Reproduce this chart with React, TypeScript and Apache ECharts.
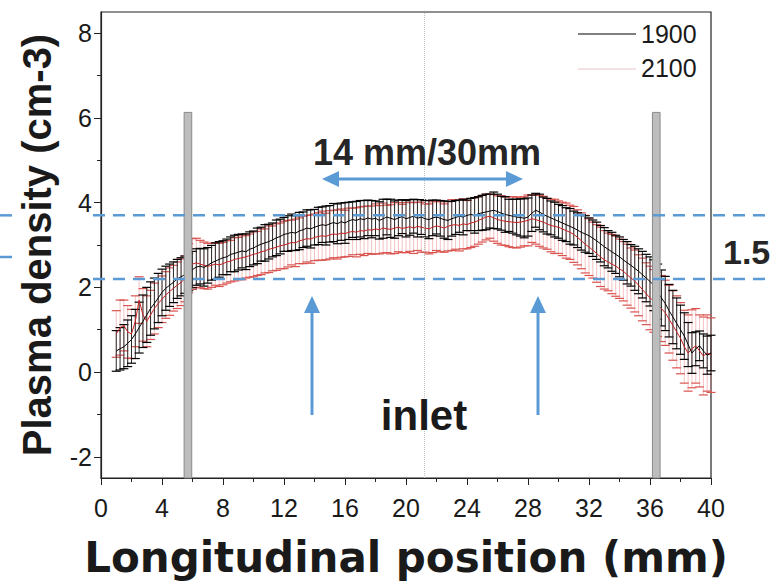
import React, { useEffect, useRef } from 'react';
import * as echarts from 'echarts';

// Longitudinal sampling (mm)
const X_START = 1;
const X_STEP = 0.25;

// Series "1900": mean plasma density and its error (±)
const MEAN_1900 = [
  0.50, 0.55, 0.60, 0.68, 0.77,
  0.90, 1.05, 1.20, 1.35,
  1.50, 1.62, 1.75, 1.88,
  1.98, 2.05, 2.12, 2.20,
  2.25, 2.30, 2.36, 2.42,
  2.48, 2.50, 2.47, 2.52,
  2.58, 2.62, 2.66, 2.70,
  2.72, 2.78, 2.80, 2.83,
  2.86, 2.84, 2.90, 2.93,
  2.98, 3.02, 3.05, 3.08,
  3.12, 3.17, 3.20, 3.25,
  3.27, 3.30, 3.28, 3.33,
  3.36, 3.40, 3.38, 3.42,
  3.45, 3.48, 3.46, 3.50,
  3.53, 3.50, 3.55, 3.52,
  3.57, 3.60, 3.58, 3.62,
  3.60, 3.64, 3.61, 3.63,
  3.58, 3.62, 3.66, 3.63,
  3.60, 3.64, 3.67, 3.62,
  3.65, 3.68, 3.63, 3.66,
  3.62, 3.60, 3.64, 3.66,
  3.63, 3.60, 3.58, 3.62,
  3.65, 3.68, 3.66, 3.70,
  3.72, 3.70, 3.74, 3.76,
  3.78, 3.80, 3.82, 3.79,
  3.75, 3.72, 3.70, 3.68,
  3.66, 3.65, 3.63, 3.66,
  3.75, 3.82, 3.78, 3.72,
  3.68, 3.64, 3.60, 3.56,
  3.52, 3.48, 3.44, 3.40,
  3.35, 3.30, 3.26, 3.22,
  3.16, 3.10, 3.03, 2.96,
  2.90, 2.84, 2.78, 2.72,
  2.65, 2.58, 2.52, 2.45,
  2.38, 2.30, 2.22, 2.14,
  2.05, 1.90, 1.75, 1.62,
  1.45, 1.30, 1.15, 1.00,
  0.85, 0.65, 0.45, 0.55,
  0.62, 0.50, 0.40, 0.45,
];
const ERR_1900 = [
  0.48, 0.50, 0.52, 0.55, 0.56,
  0.58, 0.60, 0.62, 0.65,
  0.63, 0.60, 0.58, 0.55,
  0.52, 0.50, 0.48, 0.46,
  0.45, 0.44, 0.44, 0.43,
  0.43, 0.42, 0.44, 0.42,
  0.41, 0.43, 0.42, 0.40,
  0.42, 0.41, 0.43, 0.42,
  0.40, 0.42, 0.41, 0.40,
  0.42, 0.40, 0.43, 0.41,
  0.40, 0.42, 0.41, 0.40,
  0.42, 0.43, 0.41, 0.44,
  0.42, 0.43, 0.45, 0.42,
  0.44, 0.42, 0.46, 0.43,
  0.45, 0.47, 0.44, 0.48,
  0.44, 0.42, 0.45, 0.43,
  0.45, 0.42, 0.44, 0.41,
  0.44, 0.46, 0.42, 0.45,
  0.44, 0.42, 0.40, 0.43,
  0.42, 0.40, 0.44, 0.41,
  0.43, 0.45, 0.42, 0.40,
  0.42, 0.44, 0.45, 0.41,
  0.40, 0.38, 0.42, 0.36,
  0.38, 0.42, 0.40, 0.41,
  0.42, 0.40, 0.43, 0.41,
  0.40, 0.42, 0.38, 0.40,
  0.42, 0.44, 0.46, 0.45,
  0.43, 0.40, 0.42, 0.41,
  0.42, 0.40, 0.41, 0.40,
  0.41, 0.40, 0.42, 0.40,
  0.41, 0.42, 0.43, 0.42,
  0.43, 0.44, 0.43, 0.45,
  0.44, 0.46, 0.45, 0.47,
  0.48, 0.50, 0.49, 0.52,
  0.53, 0.55, 0.56, 0.58,
  0.60, 0.65, 0.66, 0.64,
  0.62, 0.63, 0.60, 0.58,
  0.55, 0.52, 0.48, 0.40,
  0.35, 0.40, 0.45, 0.42,
];

// Series "2100": mean plasma density and its error (±)
const MEAN_2100 = [
  0.90, 1.05, 1.10, 0.95, 0.90,
  1.20, 1.70, 1.35, 1.20,
  1.35, 1.50, 1.62, 1.72,
  1.82, 1.90, 1.98, 2.05,
  2.12, 2.20, 2.45, 2.55,
  2.58, 2.55, 2.52, 2.50,
  2.52, 2.55, 2.53, 2.56,
  2.60, 2.62, 2.66, 2.68,
  2.70, 2.72, 2.75, 2.78,
  2.80, 2.84, 2.86, 2.90,
  2.92, 2.95, 2.98, 3.00,
  3.03, 3.06, 3.05, 3.10,
  3.12, 3.15, 3.14, 3.18,
  3.20, 3.22, 3.20, 3.24,
  3.26, 3.25, 3.28, 3.27,
  3.30, 3.32, 3.30, 3.34,
  3.33, 3.36, 3.35, 3.38,
  3.36, 3.40, 3.38, 3.37,
  3.40, 3.42, 3.39, 3.41,
  3.43, 3.40, 3.44, 3.42,
  3.40, 3.38, 3.42, 3.45,
  3.43, 3.40, 3.44, 3.47,
  3.48, 3.46, 3.50, 3.48,
  3.52, 3.54, 3.58, 3.62,
  3.66, 3.68, 3.64, 3.60,
  3.58, 3.56, 3.55, 3.54,
  3.53, 3.54, 3.56, 3.58,
  3.62, 3.60, 3.57, 3.54,
  3.50, 3.46, 3.44, 3.42,
  3.38, 3.34, 3.30, 3.25,
  3.18, 3.10, 3.02, 2.95,
  2.88, 2.80, 2.72, 2.65,
  2.60, 2.55, 2.50, 2.44,
  2.38, 2.30, 2.22, 2.15,
  2.05, 1.95, 1.85, 1.75,
  1.68, 1.60, 1.50, 1.40,
  1.25, 1.10, 0.95, 0.80,
  0.60, 0.45, 0.55, 0.62,
  0.50, 0.38, 0.45, 0.40,
];
const ERR_2100 = [
  0.55, 0.65, 0.60, 0.62, 0.58,
  0.60, 0.55, 0.62, 0.60,
  0.58, 0.60, 0.57, 0.55,
  0.55, 0.56, 0.54, 0.55,
  0.55, 0.54, 0.58, 0.60,
  0.58, 0.56, 0.55, 0.54,
  0.52, 0.50, 0.51, 0.50,
  0.50, 0.49, 0.51, 0.50,
  0.52, 0.50, 0.51, 0.53,
  0.52, 0.54, 0.52, 0.55,
  0.53, 0.55, 0.54, 0.56,
  0.55, 0.53, 0.56, 0.54,
  0.56, 0.55, 0.57, 0.55,
  0.56, 0.58, 0.55, 0.57,
  0.56, 0.58, 0.57, 0.55,
  0.57, 0.55, 0.58, 0.56,
  0.58, 0.56, 0.57, 0.59,
  0.57, 0.59, 0.56, 0.58,
  0.60, 0.58, 0.57, 0.59,
  0.58, 0.60, 0.57, 0.59,
  0.57, 0.59, 0.60, 0.58,
  0.59, 0.57, 0.58, 0.60,
  0.58, 0.60, 0.59, 0.57,
  0.58, 0.57, 0.56, 0.55,
  0.54, 0.52, 0.55, 0.56,
  0.58, 0.57, 0.59, 0.60,
  0.60, 0.59, 0.58, 0.60,
  0.56, 0.58, 0.60, 0.61,
  0.60, 0.62, 0.64, 0.62,
  0.63, 0.65, 0.64, 0.66,
  0.65, 0.66, 0.68, 0.67,
  0.66, 0.68, 0.70, 0.69,
  0.68, 0.70, 0.71, 0.70,
  0.70, 0.72, 0.71, 0.73,
  0.72, 0.74, 0.73, 0.75,
  0.74, 0.76, 0.78, 0.77,
  0.80, 0.82, 0.85, 0.84,
  0.86, 0.90, 0.92, 0.88,
  0.85, 0.92, 0.90, 0.88,
];

const SERIES_NAMES = ['1900', '2100'];
// Gray electrode bars: [x start, x end, top value]
const ELECTRODES = [
  [5.45, 5.95, 6.13],
  [36.16, 36.66, 6.13],
];
const CENTER_X = 21.2;
const BAND_LEVELS = [3.7, 2.2];

const X_TICKS_MAJOR = 4;
const Y_LABELS = [-2, 0, 2, 4, 6, 8];
const Y_MINOR = [-1, 1, 3, 5, 7];

const BLUE = '#5b9bd5';
const FONT = '"Liberation Sans", Arial, sans-serif';
const NARROW = '"Liberation Sans Narrow", "Arial Narrow", "Liberation Sans", sans-serif';

function makeErrorSeries(name: string, mean: number[], err: number[], barColor: string, capColor: string, z: number) {
  const data = mean.map((m, i) => [X_START + i * X_STEP, m - err[i], m + err[i]]);
  return {
    name: name + ' err',
    type: 'custom',
    z,
    silent: true,
    encode: { x: 0, y: [1, 2] },
    data,
    renderItem: (params: any, api: any) => {
      const x = api.value(0);
      const lo = api.coord([x, api.value(1)]);
      const hi = api.coord([x, api.value(2)]);
      const hw = 4.5;
      return {
        type: 'group',
        children: [
          { type: 'line', shape: { x1: lo[0], y1: lo[1], x2: hi[0], y2: hi[1] }, style: { stroke: barColor, lineWidth: 1 } },
          { type: 'line', shape: { x1: hi[0] - hw, y1: hi[1], x2: hi[0] + hw, y2: hi[1] }, style: { stroke: capColor, lineWidth: 1.2 } },
          { type: 'line', shape: { x1: lo[0] - hw, y1: lo[1], x2: lo[0] + hw, y2: lo[1] }, style: { stroke: capColor, lineWidth: 1.2 } },
        ],
      };
    },
  };
}

export default function App() {
  const ref = useRef<HTMLDivElement>(null);
  useEffect(() => {
    const chart = echarts.init(ref.current!, null, { renderer: 'svg' });
    const xs = MEAN_1900.map((_, i) => X_START + i * X_STEP);
    const option: any = {
      animation: false,
      backgroundColor: '#fff',
      grid: { left: 101, right: 59, top: 12, bottom: 100, show: true, borderColor: '#222', borderWidth: 1.2, backgroundColor: 'transparent' },
      xAxis: {
        type: 'value', min: 0, max: 40, interval: X_TICKS_MAJOR,
        name: 'Longitudinal position (mm)', nameLocation: 'middle', nameGap: 58,
        nameTextStyle: { fontFamily: '"DejaVu Sans", sans-serif', fontSize: 42, fontWeight: 'bold', color: '#1a1a1a' },
        axisLine: { show: true, onZero: false, lineStyle: { color: '#222', width: 1.2 } },
        axisTick: { show: true, inside: false, length: 7, lineStyle: { color: '#222' } },
        minorTick: { show: true, splitNumber: 2, length: 4, lineStyle: { color: '#222' } },
        axisLabel: { fontFamily: NARROW, fontSize: 25, color: '#1a1a1a', margin: 17 },
        splitLine: { show: false },
      },
      yAxis: [
        {
          type: 'value', min: -2.5, max: 8.5,
          name: 'Plasma density (cm-3)', nameLocation: 'middle', nameGap: 44, nameRotate: 90,
          nameTextStyle: { fontFamily: FONT, fontSize: 40, fontWeight: 'bold', color: '#1a1a1a' },
          axisLine: { show: true, onZero: false, lineStyle: { color: '#222', width: 1.2 } },
          axisTick: { show: true, inside: false, length: 7, customValues: Y_LABELS, lineStyle: { color: '#222' } },
          axisLabel: { fontFamily: NARROW, fontSize: 25, color: '#1a1a1a', margin: 9, customValues: Y_LABELS },
          splitLine: { show: false },
        },
        {
          type: 'value', min: -2.5, max: 8.5, position: 'left',
          axisLine: { show: false },
          axisTick: { show: true, inside: false, length: 4, customValues: Y_MINOR, lineStyle: { color: '#222' } },
          axisLabel: { show: false },
          splitLine: { show: false },
        },
      ],
      series: [
        makeErrorSeries(SERIES_NAMES[1], MEAN_2100, ERR_2100, 'rgba(230,120,120,0.45)', '#d9534f', 2),
        makeErrorSeries(SERIES_NAMES[0], MEAN_1900, ERR_1900, '#2a2a2a', '#000', 3),
        {
          name: SERIES_NAMES[1], type: 'line', z: 4, showSymbol: false, silent: true,
          data: xs.map((x, i) => [x, MEAN_2100[i]]),
          lineStyle: { color: '#cc2020', width: 1 },
        },
        {
          name: SERIES_NAMES[0], type: 'line', z: 5, showSymbol: false, silent: true,
          data: xs.map((x, i) => [x, MEAN_1900[i]]),
          lineStyle: { color: '#000', width: 1 },
          markLine: {
            silent: true, symbol: ['none', 'none'], label: { show: false },
            lineStyle: { type: 'dotted', color: '#c0c0c0', width: 1 },
            data: [{ xAxis: CENTER_X }],
          },
        },
        {
          name: 'electrodes', type: 'custom', z: 6, silent: true,
          encode: { x: [0, 1], y: 2 },
          data: ELECTRODES,
          renderItem: (params: any, api: any) => {
            const p0 = api.coord([api.value(0), api.value(2)]);
            const p1 = api.coord([api.value(1), -2.5]);
            return {
              type: 'rect',
              shape: { x: p0[0], y: p0[1], width: p1[0] - p0[0], height: p1[1] - p0[1] },
              style: { fill: '#bdbdbd', stroke: '#8a8a8a', lineWidth: 1 },
            };
          },
        },
      ],
    };
    chart.setOption(option);

    const yHi = chart.convertToPixel({ gridIndex: 0 } as any, [0, BAND_LEVELS[0]])[1];
    const yLo = chart.convertToPixel({ gridIndex: 0 } as any, [0, BAND_LEVELS[1]])[1];
    const dash = { stroke: BLUE, lineWidth: 2.5, lineDash: [12, 8] };
    const arrowShaft = { stroke: BLUE, lineWidth: 3 };
    const upArrow = (x: number) => [
      { type: 'line', z: 100, shape: { x1: x, y1: 415, x2: x, y2: 310 }, style: arrowShaft },
      { type: 'polygon', z: 100, shape: { points: [[x, 296], [x - 8, 313], [x + 8, 313]] }, style: { fill: BLUE } },
    ];
    chart.setOption({
      graphic: [
        { type: 'line', z: 100, shape: { x1: 0, y1: yHi, x2: 16, y2: yHi }, style: dash },
        { type: 'line', z: 100, shape: { x1: 0, y1: 257, x2: 16, y2: 257 }, style: dash },
        { type: 'line', z: 100, shape: { x1: 93, y1: yHi, x2: 770, y2: yHi }, style: dash },
        { type: 'line', z: 100, shape: { x1: 93, y1: yLo, x2: 770, y2: yLo }, style: dash },
        { type: 'line', z: 100, shape: { x1: 334, y1: 179, x2: 510, y2: 179 }, style: arrowShaft },
        { type: 'polygon', z: 100, shape: { points: [[322, 179], [339, 171], [339, 187]] }, style: { fill: BLUE } },
        { type: 'polygon', z: 100, shape: { points: [[523, 179], [506, 171], [506, 187]] }, style: { fill: BLUE } },
        ...upArrow(312),
        ...upArrow(538),
        { type: 'text', z: 100, x: 427, y: 152, style: { text: '14 mm/30mm', font: `bold 36px ${FONT}`, fill: '#262626', align: 'center', verticalAlign: 'middle' } },
        { type: 'text', z: 100, x: 424, y: 415, style: { text: 'inlet', font: `bold 42px ${FONT}`, fill: '#1a1a1a', align: 'center', verticalAlign: 'middle' } },
        { type: 'text', z: 100, x: 723, y: 252, style: { text: '1.5', font: `bold 34px ${FONT}`, fill: '#262626', align: 'left', verticalAlign: 'middle' } },
        // legend
        { type: 'line', z: 100, shape: { x1: 578, y1: 34, x2: 636, y2: 34 }, style: { stroke: '#000', lineWidth: 1 } },
        { type: 'text', z: 100, x: 641, y: 34, style: { text: SERIES_NAMES[0], font: `25px ${FONT}`, fill: '#1a1a1a', align: 'left', verticalAlign: 'middle' } },
        { type: 'line', z: 100, shape: { x1: 578, y1: 69, x2: 636, y2: 69 }, style: { stroke: '#e8c4c4', lineWidth: 1 } },
        { type: 'text', z: 100, x: 641, y: 68, style: { text: SERIES_NAMES[1], font: `25px ${FONT}`, fill: '#1a1a1a', align: 'left', verticalAlign: 'middle' } },
      ],
    });
    return () => chart.dispose();
  }, []);
  return <div ref={ref} style={{ position: 'fixed', left: 0, top: 0, width: 770, height: 583, background: '#fff' }} />;
}
